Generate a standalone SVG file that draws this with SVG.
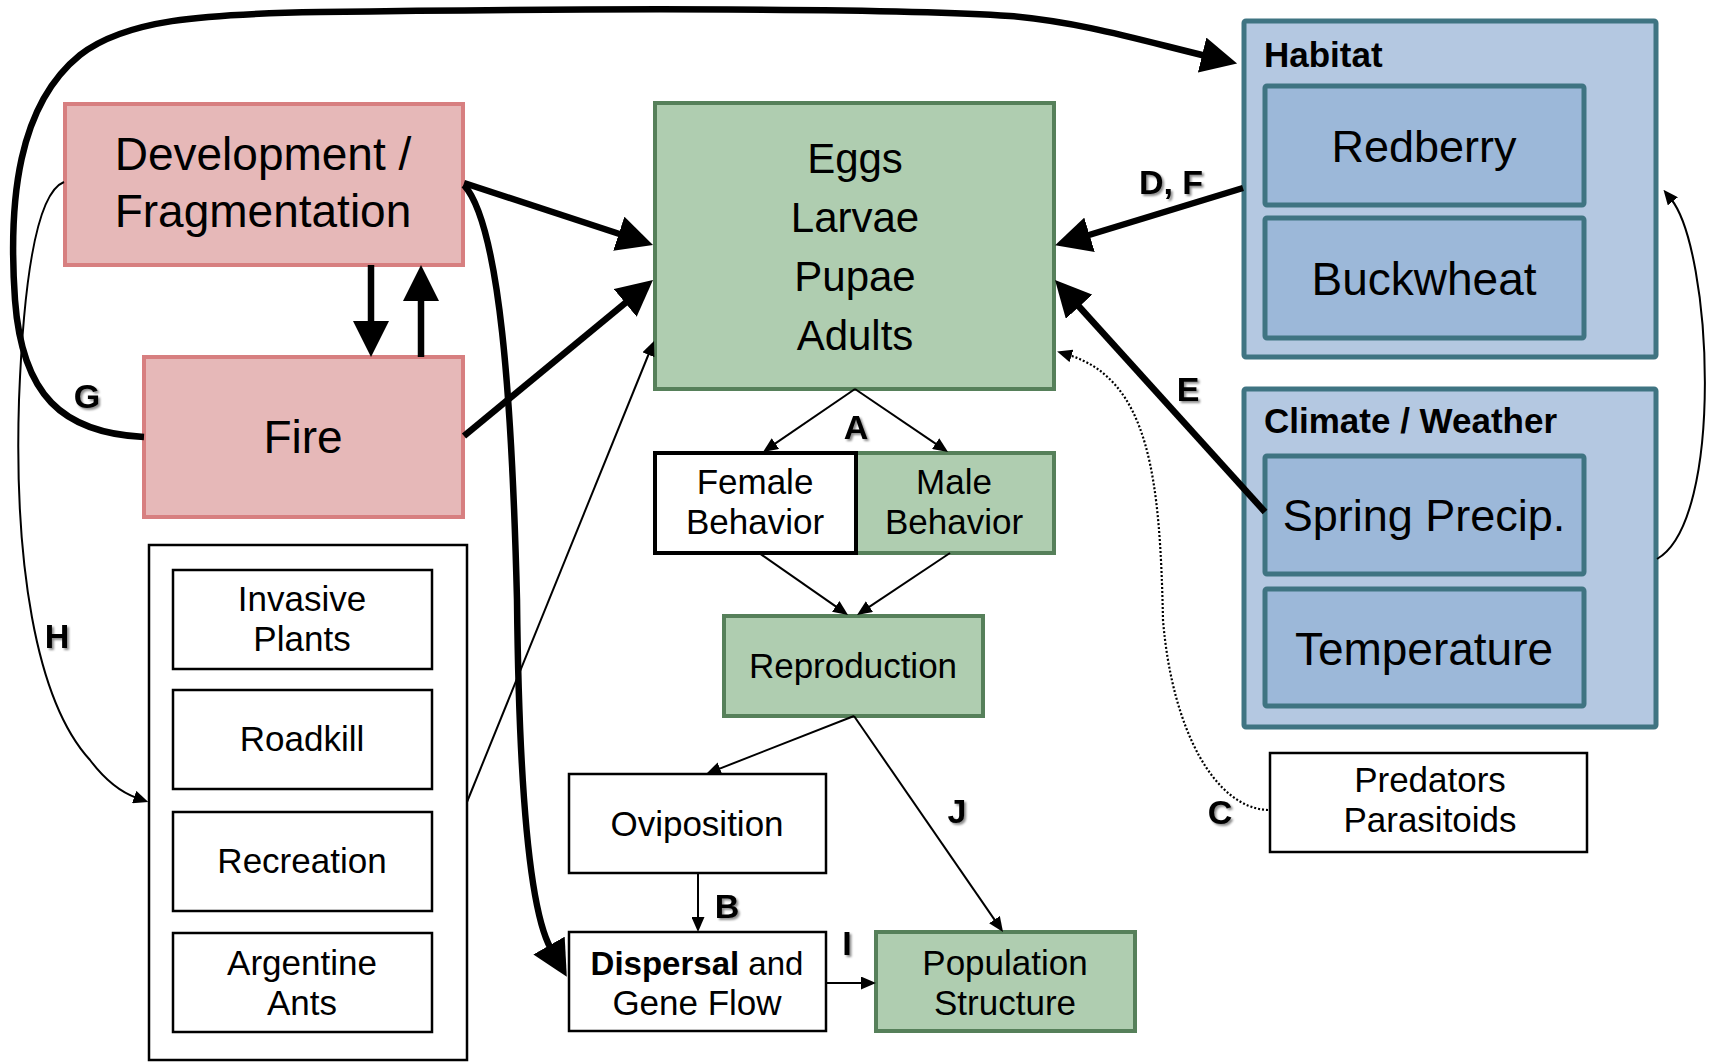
<svg xmlns="http://www.w3.org/2000/svg" width="1709" height="1064" viewBox="0 0 1709 1064">
<defs>
<style>
.t{font-family:"Liberation Sans",Arial,sans-serif;fill:#000;text-anchor:middle}
.xl{font-size:46px}
.lg{font-size:42px}
.bl{font-size:45px}
.bl2{font-size:46px}
.sm{font-size:35px}
.hdr{font-size:35px;font-weight:bold;text-anchor:start}
.lbl{font-size:34px;font-weight:bold;filter:url(#sh)}
.pink{fill:#e6b8b8;stroke:#d77f80;stroke-width:4}
.green{fill:#afcdb0;stroke:#56805a;stroke-width:4}
.bo{fill:#b4c8e1;stroke:#3f7482;stroke-width:5}
.bi{fill:#9cb8d9;stroke:#3f7482;stroke-width:5}
.wb{fill:#fff;stroke:#000;stroke-width:2.5}
.thick{fill:none;stroke:#000;stroke-width:6.5;marker-end:url(#big)}
.thin{fill:none;stroke:#000;stroke-width:2;marker-end:url(#small)}
.dot{fill:none;stroke:#000;stroke-width:2.2;stroke-dasharray:2 2;marker-end:url(#small)}
</style>
<marker id="big" viewBox="0 0 36 36" markerWidth="36" markerHeight="36" markerUnits="userSpaceOnUse" refX="4" refY="18" orient="auto">
<path d="M0,0 L36,18 L0,36 z" fill="#000"/>
</marker>
<marker id="small" viewBox="0 0 15 13" markerWidth="15" markerHeight="13" markerUnits="userSpaceOnUse" refX="3" refY="6.5" orient="auto">
<path d="M0,0 L15,6.5 L0,13 z" fill="#000"/>
</marker>
<filter id="sh" x="-30%" y="-30%" width="160%" height="160%">
<feDropShadow dx="2" dy="2" stdDeviation="1.2" flood-color="#000" flood-opacity="0.45"/>
</filter>
</defs>
<rect width="1709" height="1064" fill="#fff"/>

<g id="n-dev"><rect class="pink" x="65" y="104" width="398" height="161"/>
<text class="t xl" x="263" y="170">Development /</text><text class="t xl" x="263" y="227">Fragmentation</text></g>
<g id="n-fire"><rect class="pink" x="144" y="357" width="319" height="160"/>
<text class="t xl" x="303" y="453">Fire</text></g>
<g id="n-eggs"><rect class="green" x="655" y="103" width="399" height="286"/>
<text class="t lg" x="855" y="173">Eggs</text><text class="t lg" x="855" y="232">Larvae</text>
<text class="t lg" x="855" y="291">Pupae</text><text class="t lg" x="855" y="350">Adults</text></g>
<g id="n-male"><rect class="green" x="856" y="453" width="198" height="100"/>
<text class="t sm" x="954" y="494">Male</text><text class="t sm" x="954" y="534">Behavior</text></g>
<g id="n-female"><rect x="655" y="453" width="201" height="100" fill="#fff" stroke="#000" stroke-width="4"/>
<text class="t sm" x="755" y="494">Female</text><text class="t sm" x="755" y="534">Behavior</text></g>
<g id="n-rep"><rect class="green" x="724" y="616" width="259" height="100"/>
<text class="t sm" x="853" y="678">Reproduction</text></g>
<g id="n-ovi"><rect class="wb" x="569" y="774" width="257" height="99"/>
<text class="t sm" x="697" y="836">Oviposition</text></g>
<g id="n-disp"><rect class="wb" x="569" y="932" width="257" height="99"/>
<text class="t" x="697" y="975" font-size="33"><tspan font-weight="bold">Dispersal</tspan> and</text><text class="t sm" x="697" y="1015">Gene Flow</text></g>
<g id="n-pop"><rect class="green" x="876" y="932" width="259" height="99"/>
<text class="t sm" x="1005" y="975">Population</text><text class="t sm" x="1005" y="1015">Structure</text></g>
<g id="n-human"><rect class="wb" x="149" y="545" width="318" height="515"/>
<g id="n-inv"><rect class="wb" x="173" y="570" width="259" height="99"/>
<text class="t sm" x="302" y="611">Invasive</text><text class="t sm" x="302" y="651">Plants</text></g>
<g id="n-road"><rect class="wb" x="173" y="690" width="259" height="99"/>
<text class="t sm" x="302" y="751">Roadkill</text></g>
<g id="n-rec"><rect class="wb" x="173" y="812" width="259" height="99"/>
<text class="t sm" x="302" y="873">Recreation</text></g>
<g id="n-ant"><rect class="wb" x="173" y="933" width="259" height="99"/>
<text class="t sm" x="302" y="975">Argentine</text><text class="t sm" x="302" y="1015">Ants</text></g></g>
<g id="n-habitat"><rect class="bo" x="1244" y="21" width="412" height="336" rx="2"/>
<text class="t hdr" x="1264" y="67">Habitat</text>
<g id="n-red"><rect class="bi" x="1265" y="86" width="319" height="119" rx="2"/>
<text class="t bl" x="1424" y="162">Redberry</text></g>
<g id="n-buck"><rect class="bi" x="1265" y="218" width="319" height="120" rx="2"/>
<text class="t bl2" x="1424" y="295">Buckwheat</text></g></g>
<g id="n-climate"><rect class="bo" x="1244" y="389" width="412" height="338" rx="2"/>
<text class="t hdr" x="1264" y="433">Climate / Weather</text>
<g id="n-spring"><rect class="bi" x="1265" y="456" width="319" height="118" rx="2"/>
<text class="t bl" x="1424" y="531">Spring Precip.</text></g>
<g id="n-temp"><rect class="bi" x="1265" y="589" width="319" height="117" rx="2"/>
<text class="t bl2" x="1424" y="665">Temperature</text></g></g>
<g id="n-pred"><rect class="wb" x="1270" y="753" width="317" height="99"/>
<text class="t sm" x="1430" y="792">Predators</text><text class="t sm" x="1430" y="832">Parasitoids</text></g>

<g id="connectors">
<path id="e-g" class="thick" d="M144,437 C62,433 22,395 15,300 C8,200 18,105 80,55 C125,20 200,14 320,12 C600,8 900,8 1010,16 C1080,22 1140,40 1206,56"/>
<path id="e-h" class="thin" d="M64,182 C38,192 24,270 19,400 C14,560 35,700 90,760 C105,780 120,792 137,798"/>
<path id="e-dev-eggs" class="thick" d="M464,183 L622.6,235"/>
<path id="e-fire-eggs" class="thick" d="M464,436 L628.3,300.4"/>
<path id="e-dev-fire" class="thick" d="M371,265 L371,325"/>
<path id="e-fire-dev" class="thick" d="M421,357 L421,297"/>
<path id="e-dev-disp" class="thick" d="M464,185 C500,225 512,400 517,600 C519,790 530,912 551,949"/>
<path id="e-cont-eggs" class="thin" d="M467,802 L649.5,352"/>
<path id="e-df" class="thick" d="M1243,188 L1085.7,236"/>
<path id="e-e" class="thick" d="M1265,512 L1076.5,303.7"/>
<path id="e-c" class="dot" d="M1268,810 C1215,808 1172,730 1163,620 C1160,480 1150,380 1068.6,355"/>
<path id="e-clim-hab" class="thin" d="M1657,559 C1725,520 1712,250 1671,199"/>
<path id="e-a1" class="thin" d="M855,389 L772.9,445.2"/>
<path id="e-a2" class="thin" d="M855,389 L938.1,445.3"/>
<path id="e-fem-rep" class="thin" d="M759,553 L838.2,608.1"/>
<path id="e-male-rep" class="thin" d="M950,553 L867,608.3"/>
<path id="e-rep-ovi" class="thin" d="M854,716 L717.2,769.6"/>
<path id="e-j" class="thin" d="M854,716 L996.2,922.1"/>
<path id="e-b" class="thin" d="M698,873 L698,920"/>
<path id="e-i" class="thin" d="M826,983 L864,983"/>
</g>

<g id="labels">
<text class="t lbl" x="87" y="408">G</text>
<text class="t lbl" x="57" y="648">H</text>
<text class="t lbl" x="856" y="439">A</text>
<text class="t lbl" x="1171" y="194">D, F</text>
<text class="t lbl" x="1188" y="401">E</text>
<text class="t lbl" x="1220" y="824">C</text>
<text class="t lbl" x="957" y="823">J</text>
<text class="t lbl" x="727" y="918">B</text>
<text class="t lbl" x="847" y="955">I</text>
</g>
</svg>
